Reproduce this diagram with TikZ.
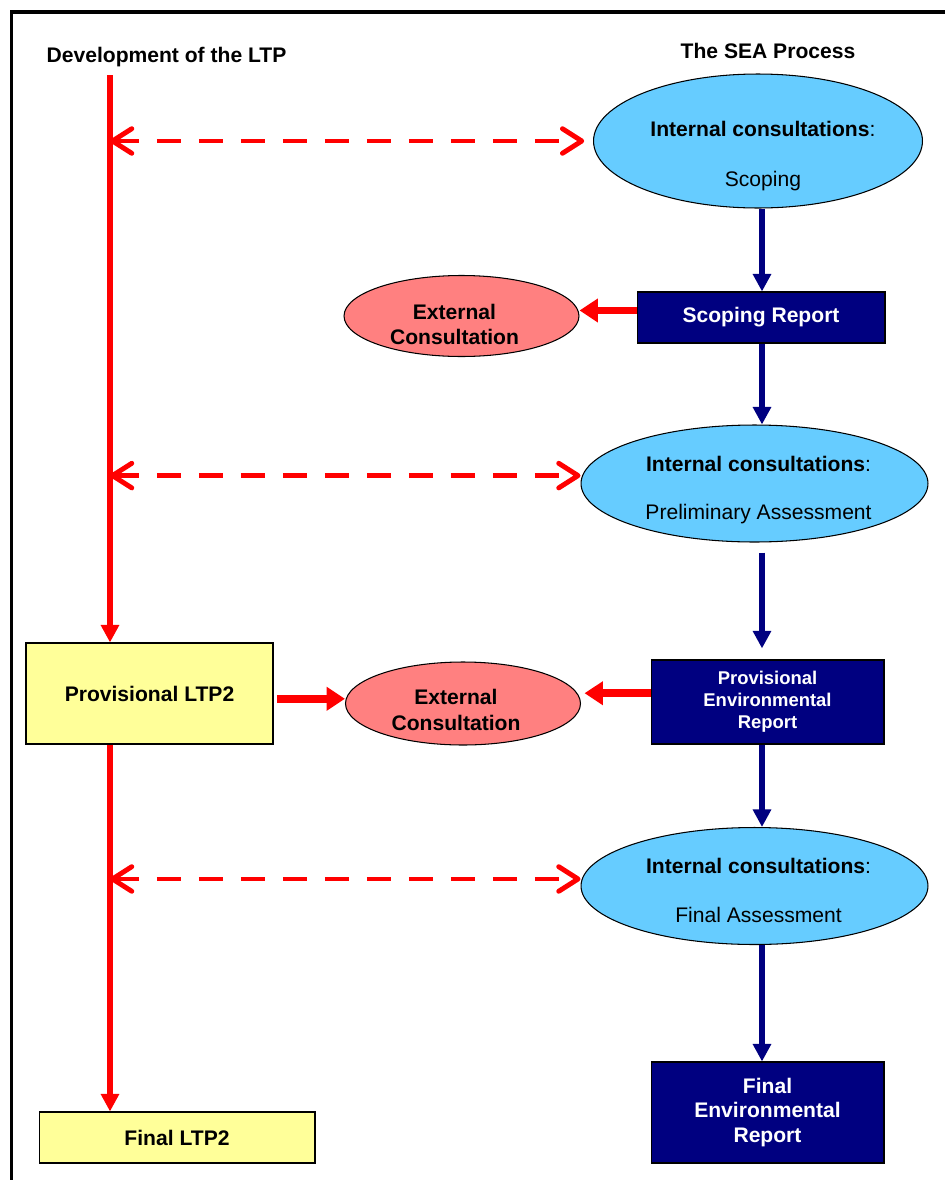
\documentclass[tikz,border=0pt]{standalone}
\usepackage{fontspec}
\setmainfont{Liberation Sans}
\usetikzlibrary{shapes.geometric,arrows.meta}
\definecolor{seablue}{HTML}{66CCFF}
\definecolor{extpink}{HTML}{FF8080}
\definecolor{ltpyellow}{HTML}{FFFF99}
\definecolor{repnavy}{HTML}{000080}

\begin{document}
\begin{tikzpicture}[
  x=0.02cm, y=-0.02cm,
  txt/.style={align=center, font=\fontsize{12}{14.4}\selectfont, inner sep=0pt},
  head/.style={txt, font=\fontsize{12}{14.4}\selectfont\bfseries},
  intell/.style={ellipse, draw, line width=0.6pt, fill=seablue, inner sep=0pt},
  extell/.style={ellipse, draw, line width=0.6pt, fill=extpink, inner sep=0pt,
                 minimum width=4.7cm, minimum height=1.62cm},
  ltpbox/.style={draw, line width=0.6pt, fill=ltpyellow, inner sep=0pt,
                 font=\fontsize{12}{14.4}\selectfont\bfseries},
  repbox/.style={draw, line width=0.6pt, fill=repnavy, text=white, inner sep=0pt,
                 align=center, minimum width=4.66cm,
                 font=\fontsize{12}{14.2}\selectfont\bfseries},
  navyarr/.style={draw=repnavy, line width=3pt,
                  -{Triangle[length=10pt, width=10pt]}},
  ltparr/.style={draw=red, line width=3.2pt,
                 -{Triangle[length=10pt, width=10pt]}},
  extarr/.style={draw=red, line width=4.5pt,
                 -{Triangle[length=10.5pt, width=13pt]}},
  dasharr/.style={draw=red, line width=2.8pt, dash pattern=on 13.7pt off 10.2pt,
                  {Straight Barb[length=11pt, width=14pt, round]}-{Straight Barb[length=11pt, width=14pt, round]}},
]
\useasboundingbox (0,0) rectangle (945,1180);

% frame
\draw[line width=2pt] (11.5,1180) -- (11.5,12) -- (945,12);

% ---- headings ----
\node[head, anchor=base] (ltphead) at (166.5,62) {Development of the LTP};
\node[head, anchor=base] (seahead) at (768,58) {The SEA Process};

% ---- SEA column ----
\coordinate (seaaxis) at (762,0);

\node[intell, minimum width=6.58cm, minimum height=2.68cm] (e1) at (758,141) {};
\node[txt] (e1txt) at ([xshift=2.8pt, yshift=-8.8pt]e1)
  {\textbf{Internal consultations}:\\[14.1pt]Scoping};

\node[repbox, minimum width=4.96cm, minimum height=1.02cm] (sr) at (761,317.5)
  {Scoping Report};

\node[intell, minimum width=6.94cm, minimum height=2.34cm] (e2) at (754.5,483.5) {};
\node[txt] (e2txt) at ([xshift=2.3pt, yshift=-3.7pt]e2)
  {\textbf{Internal consultations}:\\[12.9pt]Preliminary Assessment};

\node[repbox, minimum height=1.68cm,
      font=\fontsize{10.5}{12.5}\selectfont\bfseries] (per) at (767.5,702)
  {Provisional\\Environmental\\Report};

\node[intell, minimum width=6.94cm, minimum height=2.34cm] (e3) at (754.5,886) {};
\node[txt] (e3txt) at ([xshift=2.3pt, yshift=-2.3pt]e3)
  {\textbf{Internal consultations}:\\[13.5pt]Final Assessment};

\node[repbox, minimum height=2.02cm] (fer) at (767.5,1112.5)
  {Final\\Environmental\\Report};

% ---- external consultations ----
\node[extell] (ext1) at (461.5,316) {};
\node[txt, font=\fontsize{12}{14.4}\selectfont\bfseries] (ext1txt)
  at ([xshift=-4pt, yshift=-5pt]ext1) {External\\Consultation};

\node[extell, minimum height=1.66cm] (ext2) at (463,703.5) {};
\node[txt, font=\fontsize{12}{14.4}\selectfont\bfseries] (ext2txt)
  at ([xshift=-4pt, yshift=-3.7pt]ext2) {External\\Consultation};

% ---- LTP column ----
\coordinate (ltptop) at (110,75);
\node[ltpbox, minimum width=4.94cm, minimum height=2.02cm] (ltp) at (149.5,693.5)
  {Provisional LTP2};
\node[ltpbox, minimum width=5.52cm, minimum height=1.02cm] (fin) at (177,1137.5)
  {Final LTP2};

% ---- connectors ----
\draw[ltparr] (ltptop) -- (ltptop |- ltp.north);
\draw[ltparr] (ltptop |- ltp.south) -- (ltptop |- fin.north);

\draw[navyarr] (seaaxis |- e1.south) -- (seaaxis |- sr.north);
\draw[navyarr] (seaaxis |- sr.south) -- (seaaxis |- e2.north);
\draw[navyarr, shorten <=5.7pt, shorten >=6.3pt] (seaaxis |- e2.south) -- (seaaxis |- per.north);
\draw[navyarr] (seaaxis |- per.south) -- (seaaxis |- e3.north);
\draw[navyarr] (seaaxis |- e3.south) -- (seaaxis |- fer.north);

\draw[extarr] ([yshift=4pt]sr.west) -- ([yshift=4pt]sr.west -| ext1.east);
\draw[extarr] ([yshift=5pt]per.west) -- ([yshift=5pt,xshift=2pt]per.west -| ext2.east);
\draw[extarr, shorten <=2pt] ([yshift=-3pt]ltp.east) -- ([yshift=-3pt]ltp.east -| ext2.west);

\draw[dasharr, shorten >=5pt] (ltptop |- e1.west) -- (e1.west);
\draw[dasharr] ([yshift=4.5pt]ltptop |- e2.west) -- ([yshift=4.5pt]e2.west);
\draw[dasharr] ([yshift=4pt]ltptop |- e3.west) -- ([yshift=4pt]e3.west);

\end{tikzpicture}
\end{document}
